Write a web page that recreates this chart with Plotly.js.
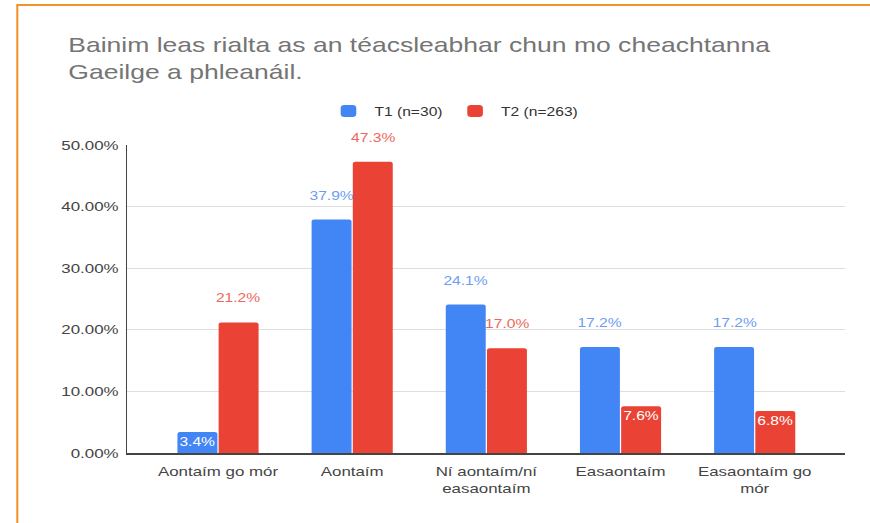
<!DOCTYPE html>
<html><head><meta charset="utf-8">
<script src="https://cdn.plot.ly/plotly-3.0.1.min.js"></script>
<style>
html,body{margin:0;padding:0;background:#fff;overflow:hidden;width:870px;height:523px}
#chart{width:669px;height:523px;transform:scaleX(1.3004);transform-origin:0 0}
</style>
</head><body><div id="chart"></div>
<script>
const categories = ['Aontaím go mór', 'Aontaím', 'Ní aontaím/ní<br>easaontaím', 'Easaontaím', 'Easaontaím go<br>mór'];
const seriesNames = ['T1 (n=30)', 'T2 (n=263)'];
const t1Values = [3.4, 37.9, 24.1, 17.2, 17.2];
const t2Values = [21.2, 47.3, 17.0, 7.6, 6.8];
const t1Inside = [true, false, false, false, false];
const t2Inside = [false, false, false, true, true];
const yTicks = [0, 10, 20, 30, 40, 50];

// The reference picture is stretched horizontally; the chart is laid out
// at 669px wide and scaled by 1.3 so text proportions match.
const S = 870 / 669;
const W = 669, H = 523;
const barColors = ['#4285F4', '#EA4335'];
const labelColors = ['#6d9df3', '#ee675c'];
const bargap = 0.386;
const font = 'Arial, "Liberation Sans", sans-serif';

const plotL = 128 / S, plotR = 845 / S, plotT = 145, plotB = 453;
const pw = plotR - plotL, ph = plotB - plotT;

function barTrace(name, vals, inside, color) {
  return {
    type: 'bar', name: name, x: categories.map((c, i) => i), y: vals,
    marker: {color: color, cornerradius: 2},
    text: vals.map((v, i) => inside[i] ? v.toFixed(1) + '%' : ''),
    textposition: 'inside', insidetextanchor: 'end', textangle: 0, constraintext: 'none',
    insidetextfont: {color: '#ffffff', size: 12, family: font},
    hoverinfo: 'skip', cliponaxis: false
  };
}

const annotations = [];
[[t1Values, t1Inside, -1], [t2Values, t2Inside, 1]].forEach(([vals, inside, side], s) => {
  vals.forEach((v, i) => {
    if (inside[i]) return;
    annotations.push({
      x: i + side * (1 - bargap) / 4, y: v, xref: 'x', yref: 'y',
      text: v.toFixed(1) + '%', showarrow: false, yanchor: 'bottom', yshift: 15,
      font: {color: labelColors[s], size: 12, family: font}
    });
  });
});

const data = [
  barTrace(seriesNames[0], t1Values, t1Inside, barColors[0]),
  barTrace(seriesNames[1], t2Values, t2Inside, barColors[1])
];

const pad = 0.175;
const layout = {
  width: W, height: H,
  margin: {l: plotL, r: W - plotR, t: plotT, b: H - plotB},
  paper_bgcolor: '#ffffff', plot_bgcolor: '#ffffff',
  font: {family: font, color: '#444'},
  barmode: 'group', bargap: bargap, bargroupgap: 0.03,
  title: {
    text: 'Bainim leas rialta as an téacsleabhar chun mo cheachtanna<br>Gaeilge a phleanáil.',
    x: 52.5 / W, xref: 'container', xanchor: 'left',
    y: 1 - 52 / H, yref: 'container', yanchor: 'top',
    font: {family: font, size: 20.4, color: '#757575'}
  },
  showlegend: true,
  legend: {
    orientation: 'h', x: (454 / S - plotL) / pw, xanchor: 'center', xref: 'paper',
    y: (plotB - 111) / ph, yanchor: 'middle', yref: 'paper',
    font: {size: 12, color: '#333', family: font}, itemwidth: 30
  },
  xaxis: {
    type: 'linear', tickmode: 'array', tickvals: categories.map((c, i) => i), ticktext: categories,
    range: [-0.5 - pad, categories.length - 0.5 + pad],
    showgrid: false, zeroline: false, showline: true, linecolor: '#444', linewidth: 1.5,
    ticks: '', ticklabelstandoff: 6, tickfont: {size: 13, color: '#444', family: font}, fixedrange: true
  },
  yaxis: {
    range: [0, 50], tickmode: 'array', tickvals: yTicks,
    ticktext: yTicks.map(t => t.toFixed(2) + '%'),
    showgrid: true, gridcolor: '#dedede', gridwidth: 1, zeroline: false,
    showline: true, linecolor: '#444', linewidth: 1.2,
    ticks: '', ticklabelstandoff: 3,
    tickfont: {size: 13, color: '#444', family: font}, fixedrange: true
  },
  annotations: annotations,
  shapes: [
    {type: 'line', xref: 'paper', yref: 'paper', x0: (18 / S - plotL) / pw, x1: (18 / S - plotL) / pw,
     y0: (plotB - 5) / ph, y1: (plotB - 530) / ph, line: {color: '#F0932B', width: 1.6}},
    {type: 'line', xref: 'paper', yref: 'paper', x0: (17 / S - plotL) / pw, x1: (900 / S - plotL) / pw,
     y0: (plotB - 5) / ph, y1: (plotB - 5) / ph, line: {color: '#F0932B', width: 2}}
  ]
};

Plotly.newPlot('chart', data, layout, {staticPlot: true});
</script></body></html>
